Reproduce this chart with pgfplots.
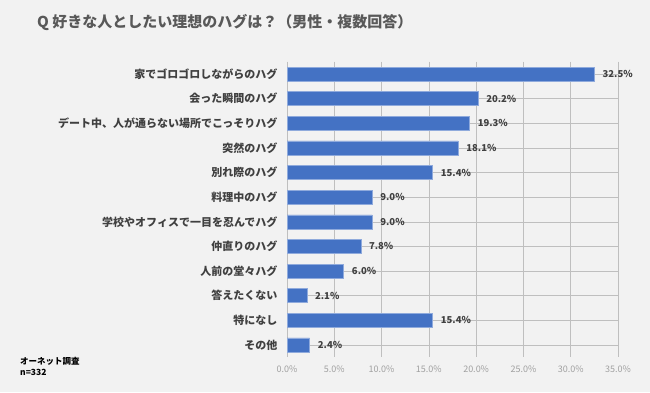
\documentclass[border=0pt]{standalone}
\usepackage{fontspec}
\setmainfont{Noto Sans CJK JP}
\usepackage{pgfplots}
\pgfplotsset{compat=1.18}
\definecolor{bg}{HTML}{F2F2F2}
\definecolor{barblue}{HTML}{4472C4}
\definecolor{txt}{HTML}{404040}
\definecolor{ttl}{HTML}{595959}
\definecolor{tick}{HTML}{A0A0A0}
\definecolor{grid}{HTML}{D9D9D9}
\begin{document}
\begin{tikzpicture}
\fill[bg] (0,0) rectangle (650pt,392pt);
\node[anchor=west,text=ttl,font=\fontsize{15}{18}\selectfont\bfseries,inner sep=0pt] at (37pt,370pt) {Q 好きな人としたい理想のハグは？（男性・複数回答）};
\node[anchor=north west,align=left,font=\fontsize{8.5}{11}\selectfont\bfseries,inner sep=0pt,text=black] at (20pt,35pt) {オーネット調査\\n=332};
\begin{axis}[
  at={(287pt,34.7pt)}, anchor=south west,
  scale only axis, width=331pt, height=295.6pt,
  xbar, bar width=14pt,
  xmin=0, xmax=35, ymin=-0.5, ymax=11.5,
  y dir=reverse,
  axis line style={draw=none},
  xtick={0,5,...,35},
  xmajorgrids, grid style={grid, line width=0.6pt},
  major tick length=0pt,
  ytick={0,...,11},
  yticklabels={家でゴロゴロしながらのハグ,会った瞬間のハグ,デート中、人が通らない場所でこっそりハグ,突然のハグ,別れ際のハグ,料理中のハグ,学校やオフィスで一目を忍んでハグ,仲直りのハグ,人前の堂々ハグ,答えたくない,特になし,その他},
  yticklabel style={font=\fontsize{11}{13}\selectfont\bfseries, text=txt, xshift=-6pt},
  xticklabel={\pgfmathprintnumber[fixed,fixed zerofill,precision=1]{\tick}\%},
  xticklabel style={font=\fontsize{9}{11}\selectfont, text=tick, yshift=-5pt},
  /pgf/number format/assume math mode=true,
  nodes near coords={\pgfmathprintnumber[fixed,fixed zerofill,precision=1]{\pgfplotspointmeta}\%},
  every node near coord/.append style={font=\fontsize{9.5}{11}\selectfont\bfseries, text=txt, anchor=west, inner xsep=0pt, xshift=8pt},
  point meta=x,
]
\addplot[fill=barblue, draw=barblue!60!white, line width=0.5pt] coordinates {
(32.5,0) (20.2,1) (19.3,2) (18.1,3) (15.4,4) (9.0,5) (9.0,6) (7.8,7) (6.0,8) (2.1,9) (15.4,10) (2.4,11)};
\end{axis}
\pgfresetboundingbox
\useasboundingbox (0,0) rectangle (650pt,392pt);
\end{tikzpicture}
\end{document}
